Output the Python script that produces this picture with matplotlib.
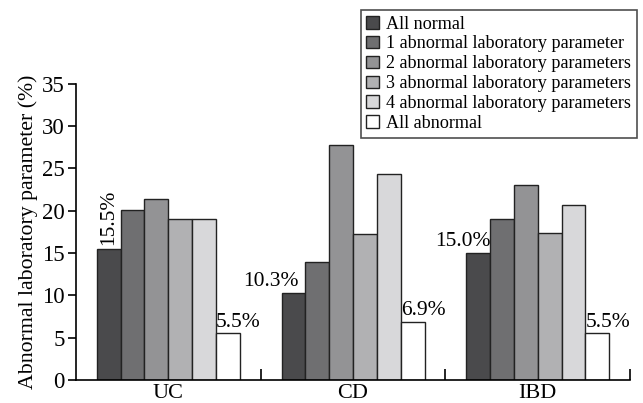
import numpy as np
import matplotlib
matplotlib.use("Agg")
import matplotlib.pyplot as plt

plt.rcParams['font.family'] = ['Liberation Serif', 'DejaVu Serif']

groups = ["UC", "CD", "IBD"]
series = [
    "All normal",
    "1 abnormal laboratory parameter",
    "2 abnormal laboratory parameters",
    "3 abnormal laboratory parameters",
    "4 abnormal laboratory parameters",
    "All abnormal",
]
values = [
    [15.5, 10.3, 15.0],
    [20.1, 13.9, 19.0],
    [21.4, 27.8, 23.0],
    [19.0, 17.3, 17.4],
    [19.0, 24.4, 20.7],
    [5.5, 6.9, 5.5],
]
colors = ["#4a4a4c", "#6f6f71", "#939395", "#b1b1b3", "#d8d8da", "#ffffff"]

fig = plt.figure(figsize=(6.43, 4.03), dpi=100)
ax = fig.add_axes([0.118, 0.057, 0.862, 0.735])

x = np.arange(len(groups))
w = 0.129
for i, (lab, vals, c) in enumerate(zip(series, values, colors)):
    ax.bar(x + (i - 2.5) * w, vals, w, color=c, edgecolor="#222222",
           linewidth=1.0, label=lab)

# value labels
fs_val = 15.5
ax.text(x[0] - 2.5 * w, values[0][0] + 0.4, "15.5%", rotation=90,
        ha="center", va="bottom", fontsize=fs_val)
ax.text(x[1] - 2.5 * w + 0.03, values[0][1] + 0.2, "10.3%",
        ha="right", va="bottom", fontsize=fs_val)
ax.text(x[2] - 2.5 * w + 0.07, values[0][2] + 0.2, "15.0%",
        ha="right", va="bottom", fontsize=fs_val)
for j in range(3):
    ax.text(x[j] + 2.5 * w - w / 2, values[5][j] + 0.2,
            f"{values[5][j]:.1f}%", ha="left", va="bottom", fontsize=fs_val)

ax.set_xlim(-0.5, 2.5)
ax.set_ylim(0, 35)
ax.set_yticks(np.arange(0, 36, 5))
ax.set_xticks(x)
ax.set_xticklabels(groups)
ax.set_xticks([0.5, 1.5, 2.5], minor=True)
ax.tick_params(axis="x", which="major", length=0, labelsize=16, pad=3)
ax.tick_params(axis="x", which="minor", direction="in", length=8, width=1.2)
ax.tick_params(axis="y", direction="out", length=6, width=1.2, labelsize=16.5, pad=2)
ax.spines["top"].set_visible(False)
ax.spines["right"].set_visible(False)
ax.spines["left"].set_linewidth(1.2)
ax.spines["bottom"].set_linewidth(1.2)
ax.set_ylabel("Abnormal laboratory parameter (%)", fontsize=15.7, labelpad=3)

leg = fig.legend(loc="upper right", bbox_to_anchor=(0.99, 0.975), fontsize=13.1,
                 frameon=True, fancybox=False, handlelength=0.7, handleheight=0.7,
                 handletextpad=0.4, labelspacing=0.16, borderpad=0.3,
                 borderaxespad=0)
leg.get_frame().set_edgecolor("#222222")
leg.get_frame().set_linewidth(1.2)

fig.savefig("out.png", dpi=100)
